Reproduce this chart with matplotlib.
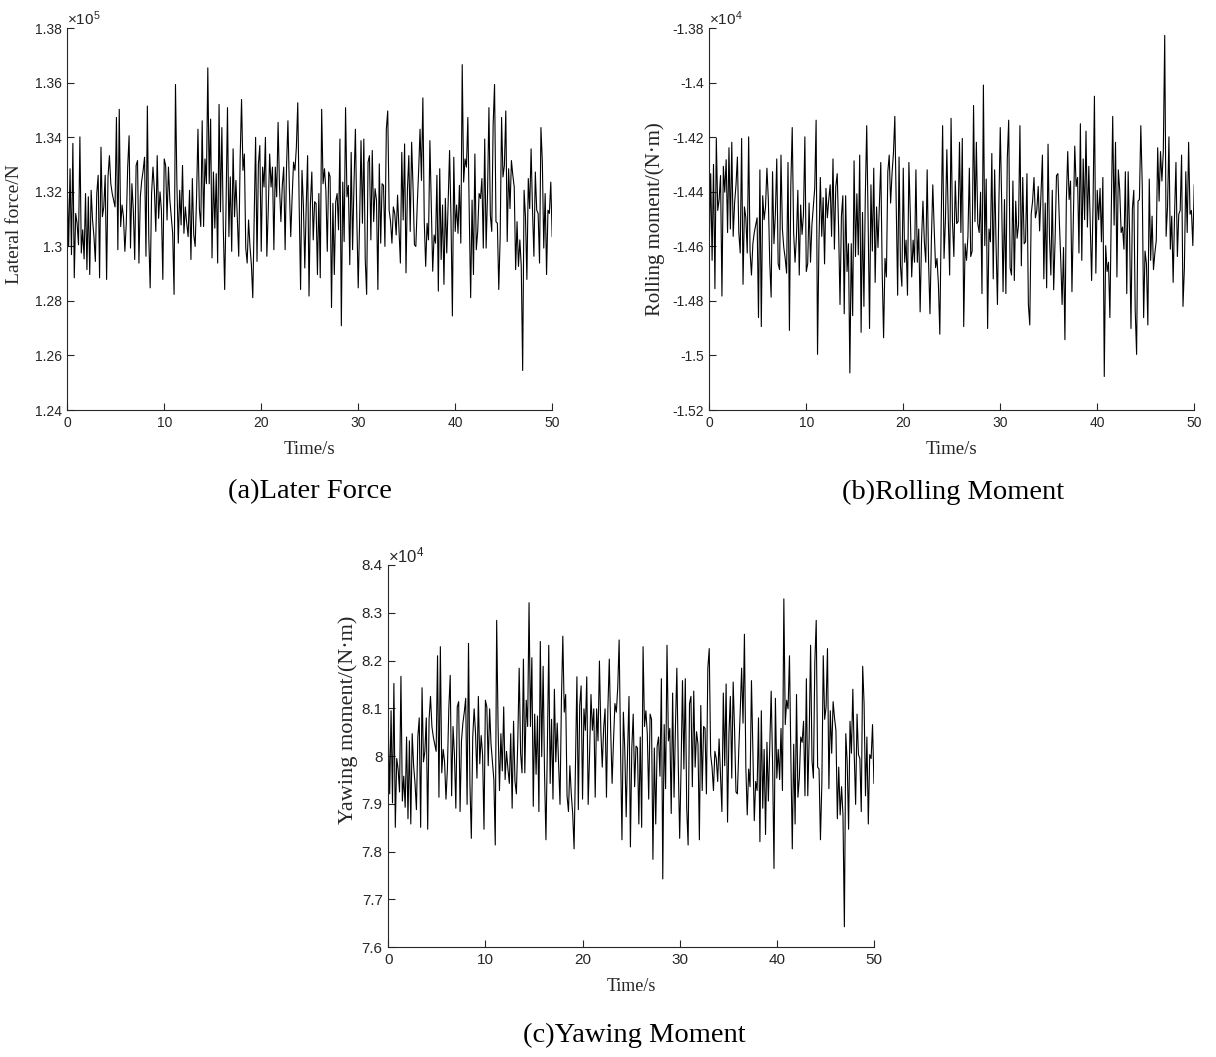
import matplotlib
matplotlib.use("Agg")
import matplotlib.pyplot as plt
import numpy as np
from matplotlib.ticker import FuncFormatter, MultipleLocator

plt.rcParams['font.family'] = 'Liberation Sans'
plt.rcParams['mathtext.fontset'] = 'custom'
plt.rcParams['mathtext.rm'] = 'Liberation Sans'
plt.rcParams['mathtext.it'] = 'Liberation Sans'

# lateral force (N), 0-50 s
lateral_force = [
    132360, 130000, 132850, 129700, 133780, 128850, 131210, 130850, 130060, 134020,
    129760, 130610, 129540, 131940, 129150, 131820, 128970, 132060, 130970, 130360,
    129450, 131940, 132610, 128850, 133640, 131090, 131450, 132610, 128790, 132550,
    133330, 132300, 131940, 131700, 131450, 134730, 129880, 135030, 130730, 131520,
    131090, 129820, 130850, 132910, 134060, 129940, 132300, 131330, 129520, 132970,
    133150, 129390, 131820, 132420, 132790, 133270, 129640, 135150, 130360, 128480,
    131940, 132910, 132060, 130550, 133330, 131030, 132000, 131330, 128790, 133210,
    132970, 130970, 132910, 131700, 131090, 130480, 128240, 135940, 132300,
    130120, 132060, 130790, 132970, 130480, 131450, 130850, 130360, 132060, 129520,
    132490, 130420, 130000, 131820, 134300, 131390, 130730, 134610, 130730, 133210,
    132300, 136550,
    132300, 134670, 129580, 132730, 130670, 132670, 129390, 135210, 131270, 134360,
    130730, 128420, 131580, 135090, 130360, 132550, 129820, 133580, 131090, 132420,
    131030, 129640, 133210, 135390, 132790, 133390, 129940, 129390, 130970, 130000,
    129330, 128120, 130970, 134000, 129450, 133030, 133700, 129820, 132910, 132180,
    134000, 129640, 131330, 133390, 132180, 132910, 129880, 132910, 131820, 134550,
    132180, 130910, 132240, 132910, 129880, 132910, 134610, 132180, 130360, 131820,
    133090, 132790, 133640, 135270, 131520, 128420,
    132790, 131520, 129210, 131450, 133330, 128180, 131580, 132730, 130240, 131640,
    131580, 128970, 131940, 128850, 135030, 132300, 132850, 132060, 129820, 132730,
    132550, 127760, 131580, 128970, 131640, 131940, 130610, 133940, 127090, 132360,
    130180, 135090, 131820, 132240, 129330, 133450, 129880, 132300, 134300, 131030,
    128480, 130910, 133880, 130850, 133940, 129520, 128240, 133090, 133330, 130240,
    133520, 130910, 132120, 131700, 128420, 133030, 130120, 132300, 132240, 130000,
    134300, 134970, 131330, 130910, 130120, 131450, 131210, 130420, 131880, 130670,
    129390, 133450, 130970, 133760, 129030, 132060, 133330, 130550, 133820, 132180,
    130060, 130000, 131520, 132790, 134300, 132420, 135450, 130910, 129270, 130850,
    130240, 133880, 131520, 129090, 130420, 130120, 132610, 128360, 132850, 129520,
    131520, 128610, 131760, 129760, 131700, 133520, 131030, 127450, 133270, 130550,
    131520, 130480, 132240, 130120, 136670,
    132360, 133210, 132910, 134730, 131210, 128120, 131700, 128970, 133390, 129880,
    130550, 131940, 131760, 132490, 129940, 133940, 129940, 131940, 135090, 131150,
    130550, 134480, 135940, 130910, 130850, 128420, 130360, 134730, 132550, 132970,
    134970, 130180, 132850, 131390, 133150, 132610, 132180, 129150, 130910, 129270,
    130240, 129270, 125450,
    132060, 131090, 128790, 132490, 131390, 133580, 131330, 129640, 132730, 131330,
    131210, 129390, 134360, 133090, 129940, 131940, 128970, 131330, 131210, 132360, 130360,
]

# rolling moment (N*m)
rolling_moment = [
    -14597, -14333, -14651, -14299, -14755, -14204, -14468, -14428, -14340, -14782,
    -14306, -14401, -14282, -14549, -14238, -14536, -14218, -14563, -14441, -14374,
    -14272, -14549, -14624, -14204, -14739, -14455, -14495, -14624, -14198, -14617,
    -14705, -14590, -14549, -14522, -14495, -14861, -14319, -14894, -14414, -14502,
    -14455, -14313, -14428, -14658, -14786, -14326, -14590, -14482, -14279, -14664,
    -14685, -14265, -14536, -14604, -14644, -14698, -14292, -14908, -14374, -14164,
    -14549, -14658, -14563, -14394, -14705, -14448, -14556, -14482, -14198, -14692,
    -14664, -14441, -14658, -14522, -14455, -14387, -14137, -14996, -14590,
    -14347, -14563, -14421, -14664, -14387, -14495, -14428, -14374, -14563, -14279,
    -14610, -14380, -14333, -14536, -14813, -14489, -14414, -14847, -14414, -14692,
    -14590, -15064,
    -14590, -14854, -14286, -14637, -14407, -14631, -14265, -14915, -14475, -14820,
    -14414, -14157, -14509, -14901, -14374, -14617, -14313, -14732, -14455, -14604,
    -14448, -14292, -14692, -14935, -14644, -14712, -14326, -14265, -14441, -14333,
    -14259, -14123, -14441, -14779, -14272, -14671, -14746, -14313, -14658, -14577,
    -14779, -14292, -14482, -14712, -14577, -14658, -14319, -14658, -14536, -14840,
    -14577, -14434, -14583, -14658, -14319, -14658, -14847, -14577, -14374, -14536,
    -14678, -14644, -14739, -14922, -14502, -14157,
    -14644, -14502, -14245, -14495, -14705, -14130, -14509, -14637, -14360, -14516,
    -14509, -14218, -14549, -14204, -14894, -14590, -14651, -14563, -14313, -14637,
    -14617, -14083, -14509, -14218, -14516, -14549, -14401, -14773, -14008, -14597,
    -14353, -14901, -14536, -14583, -14259, -14719, -14319, -14590, -14813, -14448,
    -14164, -14434, -14766, -14428, -14773, -14279, -14137, -14678, -14705, -14360,
    -14725, -14434, -14570, -14522, -14157, -14671, -14347, -14590, -14583, -14333,
    -14813, -14888, -14482, -14434, -14347, -14495, -14468, -14380, -14543, -14407,
    -14265, -14719, -14441, -14752, -14225, -14563, -14705, -14394, -14759, -14577,
    -14340, -14333, -14502, -14644, -14813, -14604, -14942, -14434, -14252, -14428,
    -14360, -14766, -14502, -14232, -14380, -14347, -14624, -14150, -14651, -14279,
    -14502, -14177, -14529, -14306, -14522, -14725, -14448, -14049, -14698, -14394,
    -14502, -14387, -14583, -14347, -15077,
    -14597, -14692, -14658, -14861, -14468, -14123, -14522, -14218, -14712, -14319,
    -14394, -14549, -14529, -14610, -14326, -14773, -14326, -14549, -14901, -14462,
    -14394, -14834, -14996, -14434, -14428, -14157, -14374, -14861, -14617, -14664,
    -14888, -14353, -14651, -14489, -14685, -14624, -14577, -14238, -14434, -14252,
    -14360, -14252, -13826,
    -14563, -14455, -14198, -14610, -14489, -14732, -14482, -14292, -14637, -14482,
    -14468, -14265, -14820, -14678, -14326, -14549, -14218, -14482, -14468, -14597, -14374,
]

# yawing moment (N*m)
yawing_moment = [
    80660, 79210, 80950, 79020, 81520, 78510, 79950, 79730, 79250, 81670,
    79060, 79580, 78930, 80400, 78690, 80320, 78580, 80470, 79800, 79430,
    78880, 80400, 80800, 78510, 81430, 79880, 80100, 80800, 78470, 80770,
    81250, 80620, 80400, 80250, 80100, 82100, 79140, 82290, 79650, 80140,
    79880, 79100, 79730, 80990, 81690, 79170, 80620, 80030, 78910, 81030,
    81140, 78840, 80320, 80690, 80920, 81210, 78990, 82360, 79430, 78280,
    80400, 80990, 80470, 79540, 81250, 79840, 80430, 80030, 78470, 81170,
    81030, 79800, 80990, 80250, 79880, 79510, 78140, 82840, 80620,
    79280, 80470, 79690, 81030, 79510, 80100, 79730, 79430, 80470, 78910,
    80730, 79470, 79210, 80320, 81840, 80060, 79650, 82030, 79650, 81170,
    80620, 83210,
    80620, 82060, 78950, 80880, 79620, 80840, 78840, 82400, 79990, 81880,
    79650, 78250, 80170, 82320, 79430, 80770, 79100, 81400, 79880, 80690,
    79840, 78990, 81170, 82510, 80920, 81290, 79170, 78840, 79800, 79210,
    78800, 78060, 79800, 81660, 78880, 81060, 81470, 79100, 80990, 80540,
    81660, 78990, 80030, 81290, 80540, 80990, 79140, 80990, 80320, 81990,
    80540, 79770, 80580, 80990, 79140, 80990, 82030, 80540, 79430, 80320,
    81100, 80920, 81430, 82430, 80140, 78250,
    80920, 80140, 78730, 80100, 81250, 78100, 80170, 80880, 79360, 80210,
    80170, 78580, 80400, 78510, 82290, 80620, 80950, 80470, 79100, 80880,
    80770, 77840, 80170, 78580, 80210, 80400, 79580, 81620, 77430, 80660,
    79320, 82320, 80320, 80580, 78800, 81320, 79140, 80620, 81840, 79840,
    78280, 79770, 81580, 79730, 81620, 78910, 78140, 81100, 81250, 79360,
    81360, 79770, 80510, 80250, 78250, 81060, 79280, 80620, 80580, 79210,
    81840, 82250, 80030, 79770, 79280, 80100, 79950, 79470, 80360, 79620,
    78840, 81320, 79800, 81510, 78620, 80470, 81250, 79540, 81550, 80540,
    79250, 79210, 80140, 80920, 81840, 80690, 82550, 79770, 78770, 79730,
    79360, 81580, 80140, 78650, 79470, 79280, 80800, 78210, 80950, 78910,
    80140, 78360, 80290, 79060, 80250, 81360, 79840, 77650, 81210, 79540,
    80140, 79510, 80580, 79280, 83290,
    80660, 81170, 80990, 82100, 79950, 78060, 80250, 78580, 81290, 79140,
    79540, 80400, 80290, 80730, 79170, 81620, 79170, 80400, 82320, 79910,
    79540, 81950, 82840, 79770, 79730, 78250, 79430, 82100, 80770, 81030,
    82250, 79320, 80950, 80060, 81140, 80800, 80540, 78690, 79770, 78770,
    79360, 78770, 76430,
    80470, 79880, 78470, 80730, 80060, 81400, 80030, 78990, 80880, 80030,
    79950, 78840, 81880, 81100, 79170, 80400, 78580, 80030, 79950, 80660, 79430,
]

t_end = 50.0
y_label = ["Lateral force/N", "Rolling moment/(N\u00b7m)", "Yawing moment/(N\u00b7m)"]
captions = ["(a)Later Force", "(b)Rolling Moment", "(c)Yawing Moment"]

fig = plt.figure(figsize=(12.16, 10.57), dpi=100)

dark = '#262626'
fmt = FuncFormatter(lambda v, pos: '%g' % round(v, 4))


def panel(rect, data, scale, exp, ylim, ystep, ylab, labxy, tick_fs, ylab_fs, xlab_fs):
    ax = fig.add_axes(rect)
    t = np.linspace(0, t_end, len(data))
    ax.plot(t, np.array(data) / scale, color='black', lw=0.8)
    ax.set_xlim(0, 50)
    ax.set_ylim(*ylim)
    ax.xaxis.set_major_locator(MultipleLocator(10))
    ax.yaxis.set_major_locator(MultipleLocator(ystep))
    ax.yaxis.set_major_formatter(fmt)
    ax.spines['top'].set_visible(False)
    ax.spines['right'].set_visible(False)
    for s in ['left', 'bottom']:
        ax.spines[s].set_color(dark)
        ax.spines[s].set_linewidth(0.8)
    ax.tick_params(direction='in', length=5, width=0.8, colors=dark,
                   labelsize=tick_fs, pad=4)
    ax.set_ylabel(ylab, family='Liberation Serif', fontsize=ylab_fs, color=dark,
                  va='center')
    ax.yaxis.set_label_coords(*labxy)
    ax.set_xlabel("Time/s", family='Liberation Serif', fontsize=xlab_fs, color=dark,
                  va='center')
    ax.xaxis.set_label_coords(0.5, -0.103)
    ax.text(0.0, 1.0, r'$\times10^{%d}$' % exp, transform=ax.transAxes,
            ha='left', va='bottom', fontsize=tick_fs + 1, color=dark)
    return ax


panel([0.0553, 0.6121, 0.3988, 0.3611], lateral_force, 1e5, 5, (1.24, 1.38), 0.02,
      y_label[0], (-0.108, 0.487), 10, 14, 13.5)
panel([0.5833, 0.6121, 0.3988, 0.3611], rolling_moment, 1e4, 4, (-1.52, -1.38), 0.02,
      y_label[1], (-0.112, 0.5), 10, 15, 13.5)
panel([0.3193, 0.1038, 0.3994, 0.3617], yawing_moment, 1e4, 4, (7.6, 8.4), 0.1,
      y_label[2], (-0.083, 0.595), 11, 16, 13)

fig.text(310 / 1216, 1 - 492 / 1057, captions[0], family='Liberation Serif',
         fontsize=20.5, ha='center', va='center')
fig.text(953 / 1216, 1 - 492 / 1057, captions[1], family='Liberation Serif',
         fontsize=20.5, ha='center', va='center')
fig.text(634 / 1216, 1 - 1035 / 1057, captions[2], family='Liberation Serif',
         fontsize=20.5, ha='center', va='center')

fig.savefig('out.png', dpi=100)
